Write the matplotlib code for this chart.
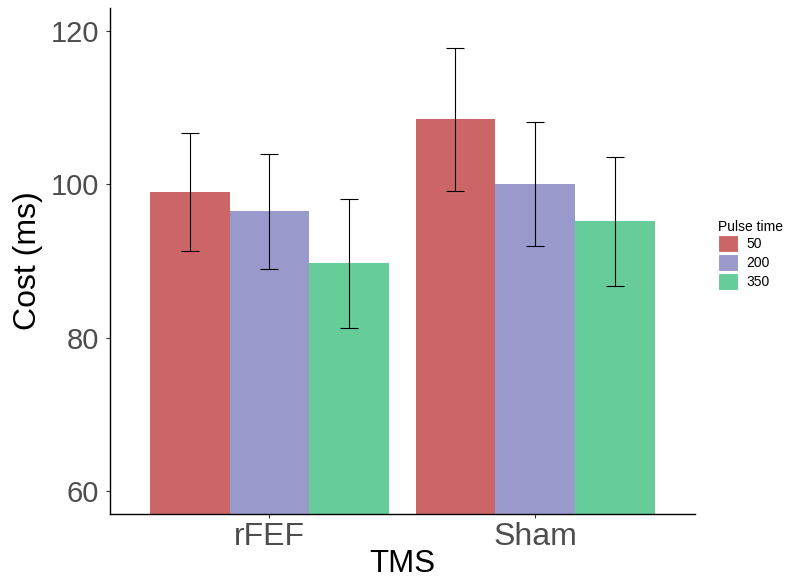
import numpy as np
import matplotlib
matplotlib.use("Agg")
import matplotlib.pyplot as plt
from matplotlib.patches import Patch

plt.rcParams["font.family"] = ["Liberation Sans", "DejaVu Sans"]

# ------------------------------------------------------------------ #
#  Data
# ------------------------------------------------------------------ #
tms_levels   = ["rFEF", "Sham"]
pulse_times  = ["50", "200", "350"]
pulse_colors = ["#CC6666", "#9999CC", "#66CC99"]

cost_50  = [99.0, 108.5]
cost_200 = [96.5, 100.0]
cost_350 = [89.7, 95.2]
err_50   = [7.65, 9.3]
err_200  = [7.5, 8.1]
err_350  = [8.45, 8.4]

means = [cost_50, cost_200, cost_350]
errs  = [err_50, err_200, err_350]

# ------------------------------------------------------------------ #
#  Plot
# ------------------------------------------------------------------ #
fig = plt.figure(figsize=(7.85, 5.82), dpi=100)
ax = fig.add_axes([0.140, 0.117, 0.745, 0.869])

x = np.arange(len(tms_levels))
width = 0.9 / len(pulse_times)

for i, (m, e, c) in enumerate(zip(means, errs, pulse_colors)):
    pos = x - 0.45 + width * (i + 0.5)
    ax.bar(pos, np.array(m) - 50, width=width, bottom=50, color=c,
           edgecolor="none", zorder=1)
    ax.errorbar(pos, m, yerr=e, fmt="none", ecolor="black",
                elinewidth=0.8, capsize=6.5, capthick=0.8, zorder=2)

ax.set_xlim(-0.6, 1.6)
ax.set_ylim(57, 123)
ax.set_xticks(x)
ax.set_xticklabels(tms_levels)
ax.set_yticks([60, 80, 100, 120])

for side in ("top", "right"):
    ax.spines[side].set_visible(False)
for side in ("left", "bottom"):
    ax.spines[side].set_linewidth(1.0)
    ax.spines[side].set_color("black")

ax.tick_params(axis="both", length=3, width=0.8, color="#333333",
               labelcolor="#4D4D4D")
ax.tick_params(axis="y", labelsize=21, pad=5)
ax.tick_params(axis="x", labelsize=23, pad=3)
ax.set_xlabel("TMS", fontsize=22.5, labelpad=-2.5)
ax.set_ylabel("Cost (ms)", fontsize=23, labelpad=5)

handles = [Patch(facecolor=c, edgecolor="white", linewidth=0.8, label=p)
           for p, c in zip(pulse_times, pulse_colors)]
leg = fig.legend(handles=handles, title="Pulse time", loc="upper left",
                 bbox_to_anchor=(0.907, 0.632), frameon=False,
                 fontsize=10, title_fontsize=10, handlelength=1.5,
                 handleheight=1.5, handletextpad=0.6, labelspacing=0.12,
                 borderaxespad=0)
leg._legend_box.align = "left"

fig.savefig("out.png", dpi=100)
